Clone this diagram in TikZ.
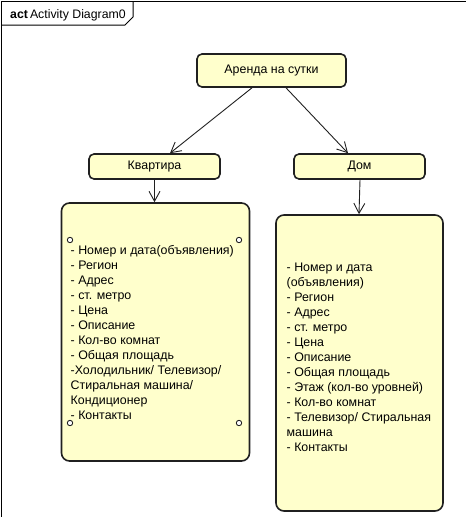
\documentclass[tikz,border=0pt]{standalone}
\usepackage{fontspec}
\setmainfont{Liberation Sans}
\usepackage{tikz}
\usetikzlibrary{arrows.meta}
\definecolor{myyellow}{RGB}{255,255,204}
\definecolor{myline}{RGB}{32,32,32}

\begin{document}
\begin{tikzpicture}[x=1pt, y=-1pt, >={Straight Barb[length=10pt,width=11pt]},
    action/.style={draw=myline, line width=1.6pt, fill=myyellow, rounded corners=5pt, inner sep=0pt, font=\fontsize{12.4}{15}\selectfont},
    bigaction/.style={action, rounded corners=8pt},
    flow/.style={->, myline, line width=0.9pt},
    pin/.style={draw=myline, fill=white, line width=0.9pt}]
    \useasboundingbox (0,0) rectangle (466,517);
    % frame
    \draw[black, line width=1pt] (1,517) -- (1,1) -- (466,1);
    \draw[black, line width=1pt] (133,1) -- (133,17) -- (125,25) -- (1,25);
    \node[anchor=base west, inner sep=0pt, font=\fontsize{12.3}{15}\selectfont] (title) at (10,18) {\textbf{act}\,Activity Diagram0};
    % actions
    \node[action, minimum width=149pt, minimum height=33pt] (rent) at (271.5,70.5) {Аренда на сутки};
    \node[action, minimum width=131pt, minimum height=25pt] (flat) at (154.5,166.5) {Квартира};
    \node[action, minimum width=131pt, minimum height=25pt] (house) at (359.5,166.5) {Дом};
    \node[bigaction, minimum width=188pt, minimum height=258pt] (flatbox) at (155.5,332) {};
    \node[bigaction, minimum width=167pt, minimum height=296pt] (housebox) at (359.5,363) {};
    % pins
    \draw[pin] (70,240) circle (2.7pt);
    \draw[pin] (239,240) circle (2.7pt);
    \draw[pin] (70,423) circle (2.7pt);
    \draw[pin] (239,423) circle (2.7pt);
    % lists
    \node[anchor=north west, inner sep=0pt, align=left, font=\fontsize{12.4}{15}\selectfont] (flatlist) at (70.5,245) {- Номер и дата(объявления)\\- Регион\\- Адрес\\- ст. метро\\- Цена\\- Описание\\- Кол-во комнат\\- Общая площадь\\-Холодильник/ Телевизор/\\Стиральная машина/\\Кондиционер\\- Контакты};
    \node[anchor=north west, inner sep=0pt, align=left, font=\fontsize{12.4}{15}\selectfont] (houselist) at (286.5,262.4) {- Номер и дата\\(объявления)\\- Регион\\- Адрес\\- ст. метро\\- Цена\\- Описание\\- Общая площадь\\- Этаж (кол-во уровней)\\- Кол-во комнат\\- Телевизор/ Стиральная\\машина\\- Контакты};
    % flows
    \draw[flow] ([xshift=-19.5pt]rent.south) -- ([xshift=15.5pt]flat.north);
    \draw[flow] ([xshift=14.5pt]rent.south) -- ([xshift=-11.5pt]house.north);
    \draw[flow] (flat.south) -- (flat.south |- flatbox.north);
    \draw[flow] ([xshift=0.5pt]house.south) -- ([xshift=-0.5pt]housebox.north);
\end{tikzpicture}
\end{document}
